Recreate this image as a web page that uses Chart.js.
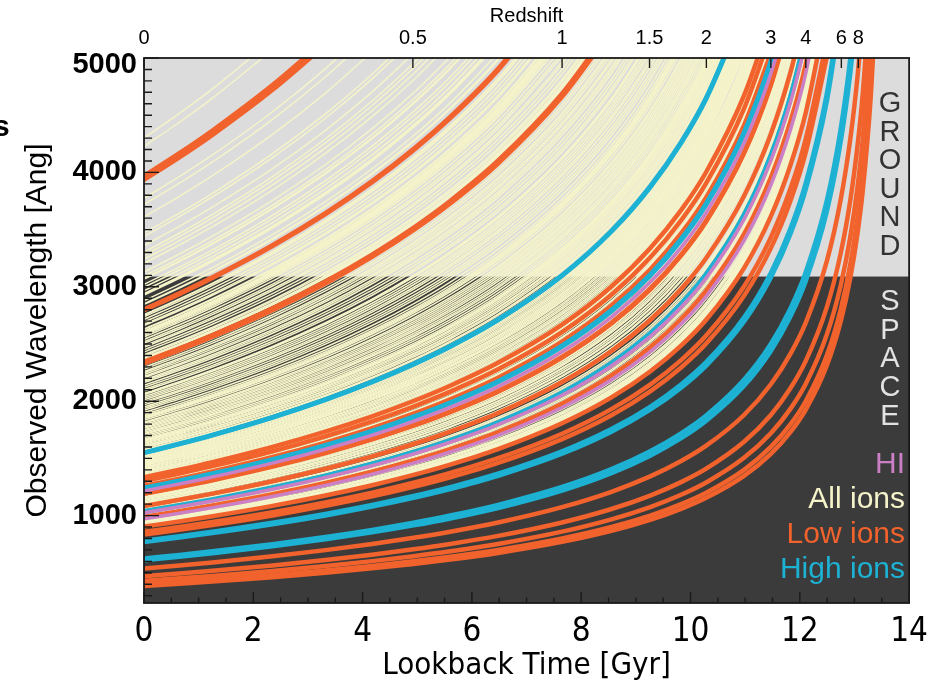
<!DOCTYPE html>
<html><head><meta charset="utf-8">
<script src="https://cdn.jsdelivr.net/npm/chart.js@4.4.1/dist/chart.umd.min.js"></script>
<style>html,body{margin:0;padding:0;background:#fff;}canvas{display:block;}</style>
</head><body>
<canvas id="c" width="938" height="685"></canvas>
<script>
// Lookback time (Gyr) and matching stretch factor (1+z), read along the top redshift axis
const lookbackTime = [0, 0.647, 1.253, 2.352, 3.320, 4.174, 4.931, 5.603, 6.478, 7.649, 8.553, 9.262, 9.828, 10.287, 10.979, 11.470, 11.831, 12.107, 12.493, 12.747, 12.925, 13.055, 13.154, 13.292, 13.382, 13.470];
const stretch      = [1, 1.05, 1.1, 1.2, 1.3, 1.4, 1.5, 1.6, 1.75, 2.0, 2.25, 2.5, 2.75, 3.0, 3.5, 4.0, 4.5, 5.0, 6.0, 7.0, 8.0, 9.0, 10, 12, 14, 17];

const redshiftLabels = ['0', '0.5', '1', '1.5', '2', '3', '4', '6', '8'];
const redshiftTimes  = [0, 4.92, 7.65, 9.25, 10.29, 11.47, 12.11, 12.76, 13.07];
const timeTicks = [0, 2, 4, 6, 8, 10, 12, 14];
const wavelengthTicks = [1000, 2000, 3000, 4000, 5000];
const groundLimit = 3090;

const hiLines = [1215.7, 1025.7, 972.5];
const lowIonLines = [3934.8, 3969.6, 2796.4, 2803.5, 2330.0, 2344.2, 1334.5, 1302.2, 1260.4, 1193.3, 1190.4, 1084.0, 1036.3, 988.7, 903.9, 858.0, 834.5, 537.0, 470.0, 430.0, 400.0, 385.0];
const highIonLines = [1548.2, 1550.8, 1238.8, 1242.8, 1031.9, 1037.6, 770.4, 780.3, 609.8, 624.9];
const allIonLines = [
 4300, 4227, 3775, 3720, 3610, 3470, 3441, 3360, 3303, 3275, 3242, 3205, 3130, 3094, 3073,
 3067, 3021, 2997, 2967, 2942, 2936, 2928, 2880, 2852, 2846, 2803, 2796, 2790, 2756, 2750, 2738, 2715, 2692, 2670, 2660,
 2632, 2626, 2613, 2607, 2600, 2594, 2586, 2576, 2563, 2541, 2520, 2506, 2484, 2472, 2450, 2430, 2406, 2396, 2382, 2374,
 2367, 2344, 2333, 2326, 2316, 2296, 2280, 2260, 2249, 2234, 2217, 2206, 2187, 2175, 2162, 2139, 2122, 2103, 2090, 2066,
 2062, 2056, 2040, 2026, 2012, 1996, 1985, 1968, 1950, 1936, 1922, 1901, 1883, 1870, 1862, 1854, 1847, 1834, 1817, 1808,
 1796, 1785, 1773, 1763, 1751, 1741, 1728, 1717, 1709,
 1696, 1683, 1670, 1662, 1658, 1656, 1649, 1640, 1632, 1622, 1611, 1608, 1598, 1590, 1578, 1572, 1560, 1550, 1548, 1540,
 1533, 1526, 1518, 1510, 1502, 1494, 1488, 1480, 1472, 1467, 1460, 1454, 1447, 1441, 1435, 1426, 1419, 1410, 1402, 1393,
 1385, 1378, 1370, 1362, 1355, 1347, 1341, 1335, 1334, 1328, 1321, 1317, 1311, 1306, 1304, 1302,
 1295, 1290, 1280, 1277, 1270, 1265, 1260, 1259, 1253, 1250, 1243, 1239, 1230, 1222, 1216, 1206, 1200, 1197, 1193, 1190,
 1185, 1178, 1175, 1167, 1160, 1155, 1144, 1143, 1134, 1125, 1122, 1112, 1108, 1096, 1084, 1077, 1063, 1055, 1048, 1039,
 1037, 1031, 1026, 1020, 1012, 1006, 998, 990, 989, 977, 972, 964, 954, 949, 944, 937, 933, 930, 926, 923, 919, 916, 911,
 904, 858, 835, 782, 768, 626, 608, 539, 535, 472, 468, 432, 428, 402, 398, 387, 383
];

const COLORS = { ground: '#dcdcdc', space: '#3b3b3b', all: '#f5f3c9', low: '#f1622c', high: '#1db1d3', hi: '#cb80c6', frame: '#1a1a1a' };
const FONT = "'Liberation Sans', Helvetica, Arial, sans-serif";
const NARROW = "'Liberation Sans Narrow', 'Arial Narrow', 'DejaVu Sans Condensed', 'Liberation Sans', sans-serif";
const Y_MIN = 236, Y_MAX = 5000;

function curve(rest) {
  const pts = [];
  for (let i = 0; i < lookbackTime.length; i++) {
    const y = rest * stretch[i];
    pts.push({ x: lookbackTime[i], y: y });
    if (y > Y_MAX) break;
  }
  return pts;
}
function group(list, color, width, order) {
  return list.map(r => ({ data: curve(r), borderColor: color, borderWidth: width, order: order,
    showLine: true, pointRadius: 0, fill: false, cubicInterpolationMode: 'monotone' }));
}
const datasets = [].concat(
  group(hiLines, COLORS.hi, 3.5, 1),
  group(highIonLines, COLORS.high, 4.6, 2),
  group(lowIonLines, COLORS.low, 4.5, 3),
  group(allIonLines, COLORS.all, 1.5, 4)
);

const backdrop = {
  id: 'backdrop',
  beforeDatasetsDraw(chart) {
    const { ctx, chartArea: a, scales } = chart;
    const yb = scales.y.getPixelForValue(groundLimit);
    ctx.save();
    ctx.fillStyle = COLORS.ground; ctx.fillRect(a.left, a.top, a.right - a.left, yb - a.top);
    ctx.fillStyle = COLORS.space; ctx.fillRect(a.left, yb, a.right - a.left, a.bottom - yb);
    ctx.restore();
  }
};
const decorations = {
  id: 'decorations',
  afterDatasetsDraw(chart) {
    const { ctx, chartArea: a, scales } = chart;
    ctx.save();
    ctx.strokeStyle = COLORS.frame; ctx.lineWidth = 1.4;
    ctx.beginPath();
    for (let v = 0; v <= 14.001; v += 0.5) {
      const px = scales.x.getPixelForValue(v);
      const len = (Math.abs(v % 2) < 1e-6) ? 11 : 5.5;
      ctx.moveTo(px, a.bottom); ctx.lineTo(px, a.bottom - len);
    }
    for (let v = 300; v <= 5000; v += 100) {
      const py = scales.y.getPixelForValue(v);
      const len = (v % 1000 === 0) ? 15 : 8;
      ctx.moveTo(a.left, py); ctx.lineTo(a.left + len, py);
    }
    redshiftTimes.forEach(t => {
      const px = scales.xTop.getPixelForValue(t);
      ctx.moveTo(px, a.top); ctx.lineTo(px, a.top + 10);
    });
    ctx.stroke();
    ctx.lineWidth = 1.8;
    ctx.strokeRect(a.left, a.top, a.right - a.left, a.bottom - a.top);

    // wavelength tick labels (top one sits just inside the frame, as in the original)
    ctx.fillStyle = '#000'; ctx.textAlign = 'right'; ctx.textBaseline = 'middle';
    ctx.font = 'bold 29px ' + FONT;
    wavelengthTicks.forEach(v => {
      let py = scales.y.getPixelForValue(v);
      if (py < a.top + 7) py = a.top + 7;
      ctx.fillText(String(v), a.left - 7, py);
    });

    ctx.textAlign = 'center';
    ctx.font = '29px ' + FONT;
    const cx = 890;
    'GROUND'.split('').forEach((ch, i) => { ctx.fillStyle = '#333333'; ctx.fillText(ch, cx, 104 + i * 28.6); });
    'SPACE'.split('').forEach((ch, i) => { ctx.fillStyle = '#e2e2e2'; ctx.fillText(ch, cx, 302 + i * 28.7); });

    ctx.textAlign = 'right';
    ctx.font = '30px ' + FONT;
    const legend = [['HI', COLORS.hi, 465], ['All ions', COLORS.all, 500], ['Low ions', COLORS.low, 535], ['High ions', COLORS.high, 570]];
    legend.forEach(([t, c, y]) => { ctx.fillStyle = c; ctx.fillText(t, 905, y); });

    ctx.textAlign = 'left'; ctx.fillStyle = '#000';
    ctx.font = 'bold 30px ' + FONT;
    ctx.fillText('s', -7, 128);
    ctx.restore();
  }
};

new Chart(document.getElementById('c'), {
  type: 'scatter',
  data: { datasets },
  plugins: [backdrop, decorations],
  options: {
    responsive: false, animation: false, events: [],
    layout: { padding: { left: 0, right: 26, top: 0, bottom: 0 } },
    plugins: { legend: { display: false }, tooltip: { enabled: false } },
    elements: { point: { radius: 0 } },
    scales: {
      x: {
        type: 'linear', position: 'bottom', min: 0, max: 14,
        afterBuildTicks: s => { s.ticks = timeTicks.map(v => ({ value: v })); },
        afterFit: s => { s.height = 82; },
        grid: { display: false, drawTicks: false }, border: { display: false },
        ticks: { color: '#000', font: { family: NARROW, size: 33 }, padding: 10, maxRotation: 0, callback: v => String(v) },
        title: { display: true, text: 'Lookback Time [Gyr]', color: '#000', font: { family: NARROW, size: 31 }, padding: { top: 0, bottom: 0 } }
      },
      xTop: {
        type: 'linear', position: 'top', min: 0, max: 14,
        afterBuildTicks: s => { s.ticks = redshiftTimes.map(v => ({ value: v })); },
        afterFit: s => { s.height = 58; },
        grid: { display: false, drawTicks: false }, border: { display: false },
        ticks: { color: '#000', font: { family: FONT, size: 20 }, padding: 8, maxRotation: 0, autoSkip: false,
          callback: (v, i) => redshiftLabels[i] },
        title: { display: true, text: 'Redshift', color: '#000', font: { family: FONT, size: 20 }, padding: { top: 4, bottom: 0 } }
      },
      y: {
        type: 'linear', position: 'left', min: Y_MIN, max: Y_MAX,
        afterBuildTicks: s => { s.ticks = wavelengthTicks.map(v => ({ value: v })); },
        afterFit: s => { s.width = 144; },
        grid: { display: false, drawTicks: false }, border: { display: false },
        ticks: { display: false },
        title: { display: true, text: 'Observed Wavelength [Ang]', color: '#000', font: { family: FONT, size: 30 }, padding: { top: 20, bottom: 0 } }
      }
    }
  }
});
</script>
</body></html>
